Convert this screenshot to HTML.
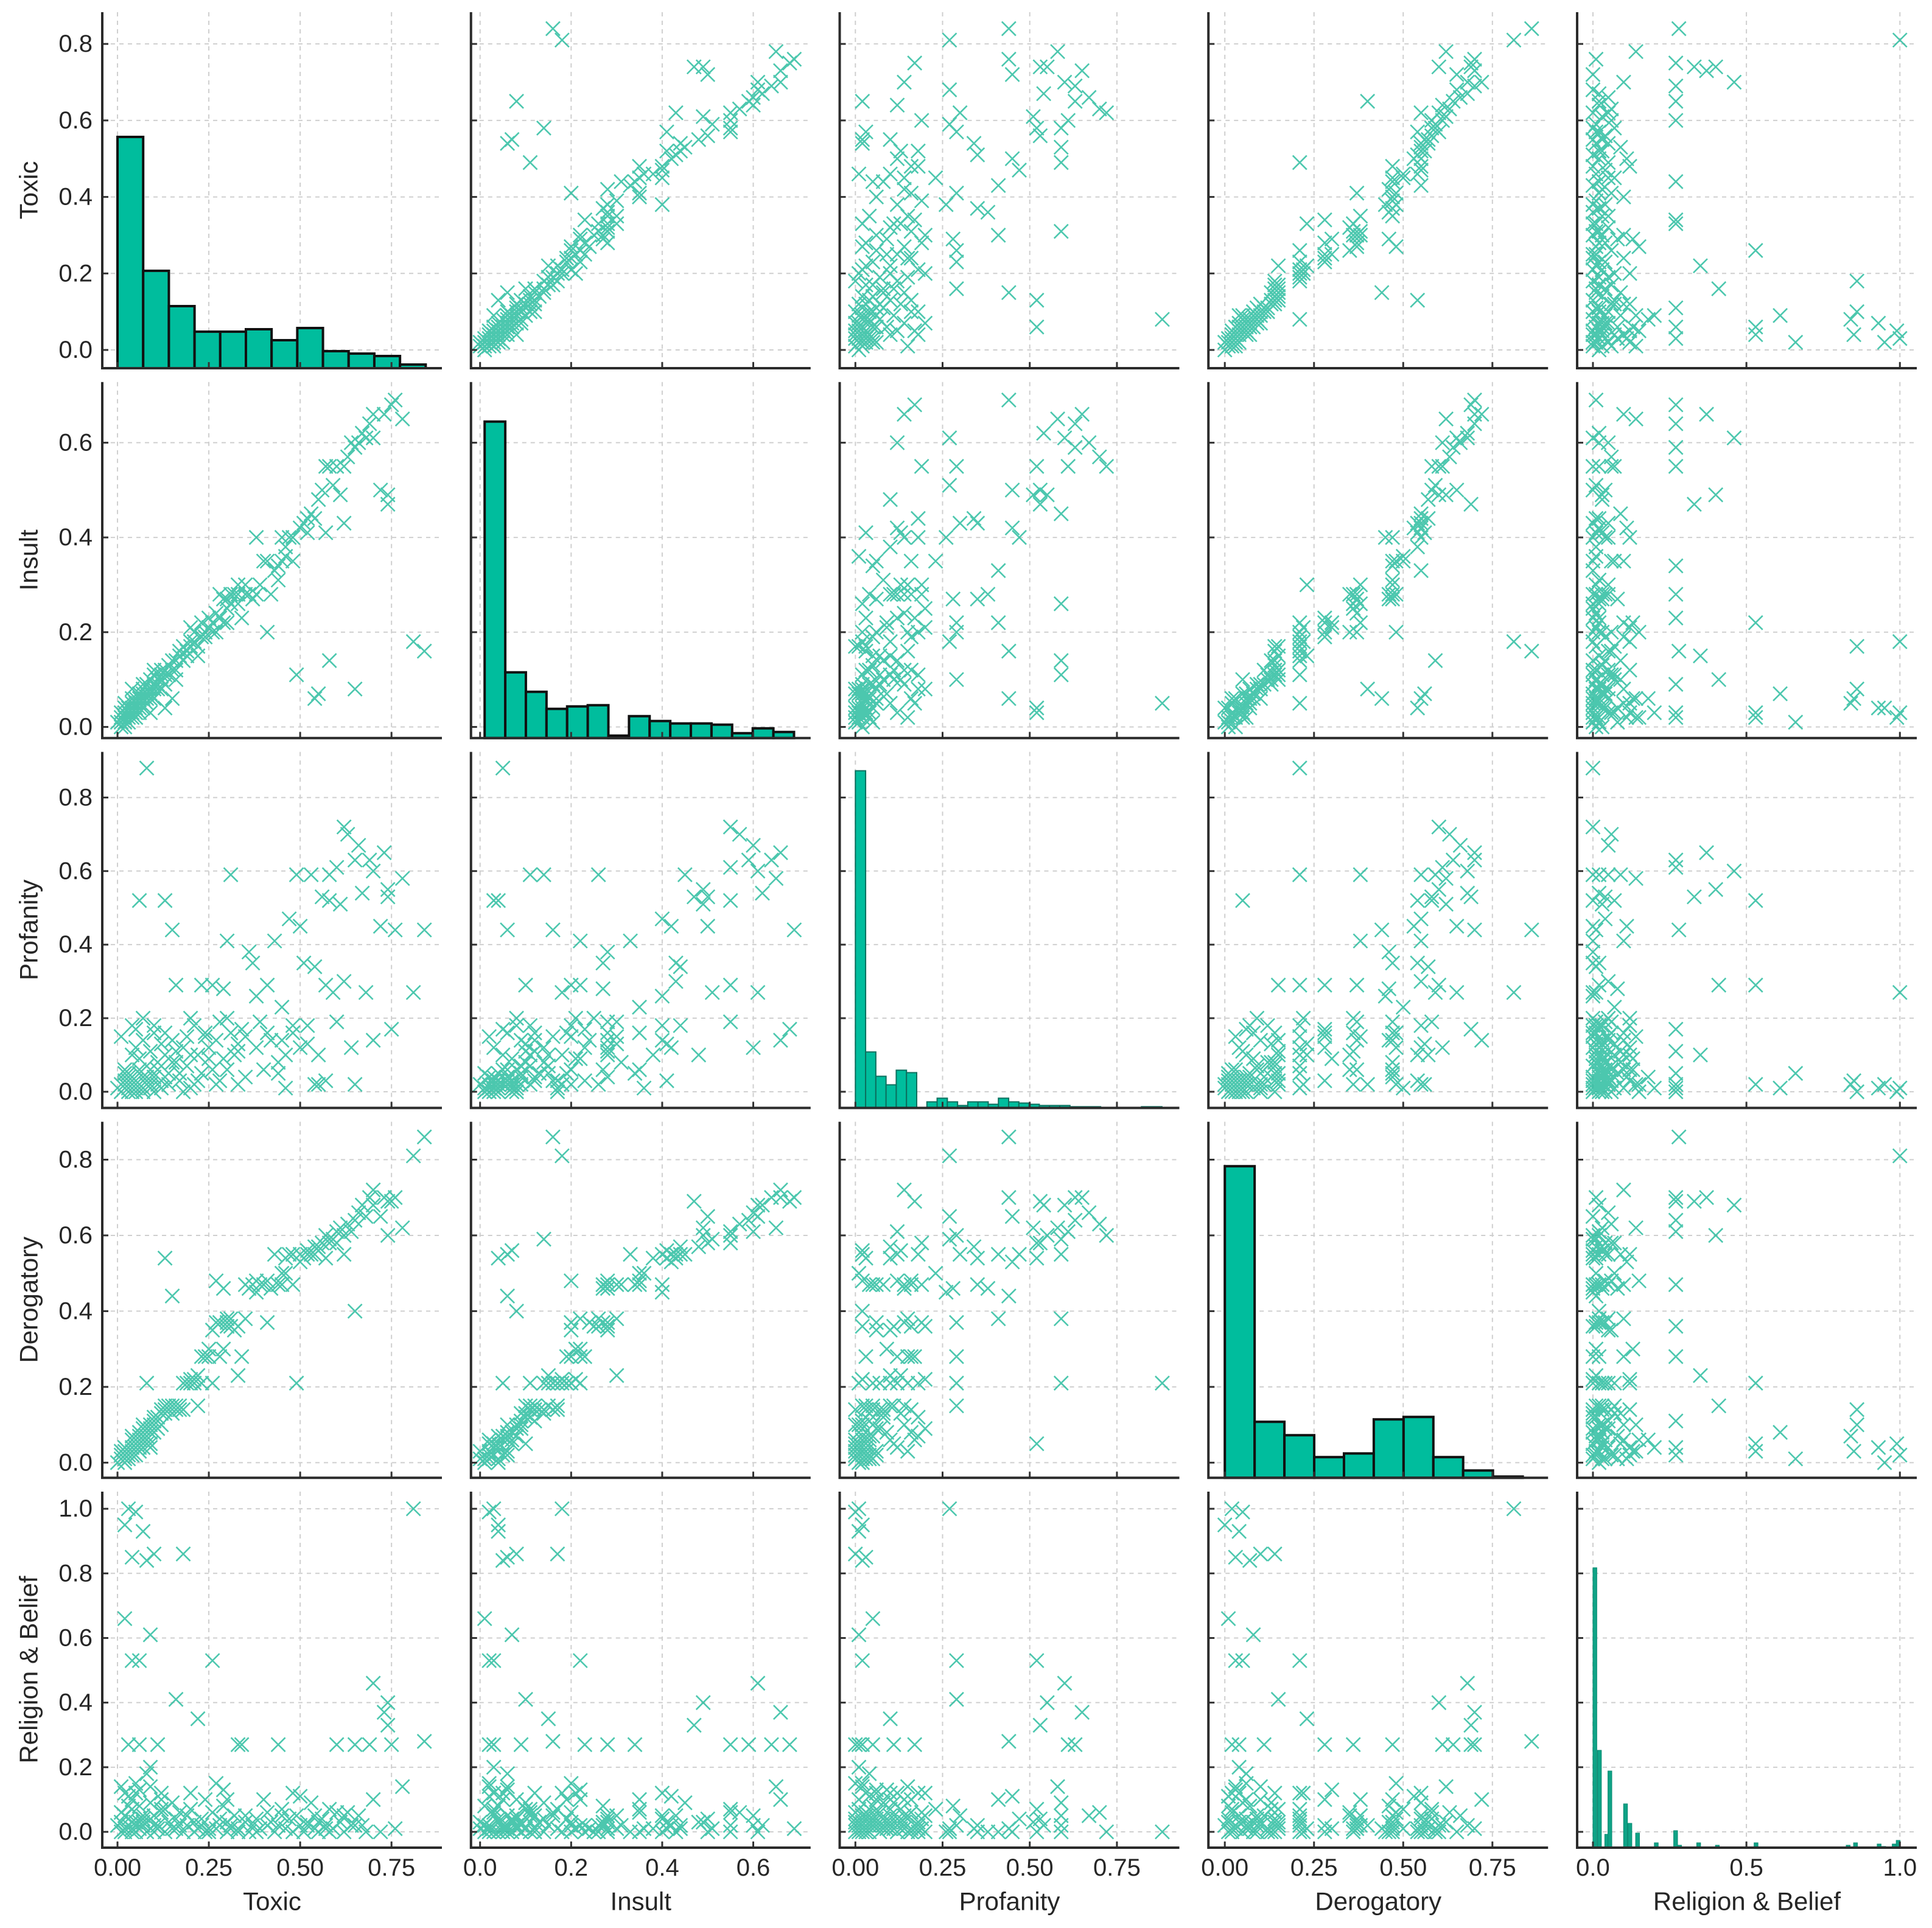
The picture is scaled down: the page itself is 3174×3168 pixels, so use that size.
<!DOCTYPE html>
<html><head><meta charset="utf-8"><style>html,body{margin:0;padding:0;background:#fff}svg{display:block}</style></head>
<body>
<svg id="chart" xmlns="http://www.w3.org/2000/svg" width="3174" height="3168" viewBox="0 0 3174 3168"></svg>
<script>
const varNames = ["Toxic","Insult","Profanity","Derogatory","Religion & Belief"];
const toxic = [.01,.02,.03,.04,.05,.02,.06,.07,.08,.03,.09,.10,.11,.12,.04,.05,.06,.01,.02,.03,.05,.07,.04,.08,.10,.02,.04,.09,.03,.06,.11,.08,.12,.13,.14,.15,.10,.07,.05,.09,.08,.06,.13,.15,.02,.03,.04,.01,.06,.12,.16,.17,.18,.19,.20,.21,.22,.23,.24,.25,.26,.27,.28,.29,.30,.31,.32,.33,.34,.35,.22,.26,.18,.20,.29,.30,.16,.33,.36,.27,.37,.38,.39,.40,.41,.42,.43,.44,.45,.46,.47,.48,.49,.50,.51,.52,.53,.54,.55,.54,.38,.41,.44,.46,.50,.56,.57,.58,.59,.60,.61,.62,.63,.64,.65,.66,.67,.68,.69,.70,.72,.73,.74,.75,.76,.78,.81,.84,.65,.70,.58,.55,.62,.74,.00,.01,.02,.03,.04,.05,.06,.07,.08,.09,.10,.11,.12,.13,.14,.15,.16,.17,.19,.21,.23,.25,.28,.30,.33,.35,.05,.02,.09,.10,.04,.07,.13,.20,.24,.31,.45,.52,.48,.60,.57];
const insult = [.01,.02,.02,.03,.04,.03,.05,.06,.07,.01,.08,.09,.10,.11,.05,.03,.07,.02,.04,.03,.02,.04,.06,.05,.08,.01,.02,.07,.02,.03,.09,.06,.12,.11,.13,.12,.11,.08,.05,.10,.05,.03,.04,.06,.02,.04,.03,.00,.06,.08,.14,.15,.14,.16,.18,.20,.17,.22,.19,.23,.20,.24,.28,.22,.25,.26,.28,.30,.23,.28,.15,.22,.17,.21,.27,.22,.10,.28,.28,.20,.27,.28,.30,.35,.35,.28,.33,.31,.35,.38,.40,.40,.11,.42,.43,.41,.45,.44,.07,.06,.40,.20,.34,.36,.42,.50,.55,.55,.51,.55,.49,.55,.57,.60,.59,.60,.62,.61,.64,.66,.50,.66,.49,.68,.69,.65,.18,.16,.08,.61,.14,.48,.43,.47,.01,.03,.00,.02,.04,.06,.04,.07,.09,.06,.12,.08,.10,.12,.11,.14,.12,.16,.15,.18,.19,.21,.23,.27,.26,.30,.02,.05,.03,.06,.08,.09,.09,.17,.20,.28,.40,.44,.35,.55,.41];
const profanity = [.00,.01,.00,.02,.01,.03,.02,.04,.03,.05,.06,.05,.08,.07,.10,.12,.09,.15,.02,.01,.00,.01,.03,.02,.00,.05,.02,.01,.00,.01,.02,.04,.03,.10,.05,.14,.18,.20,.17,.11,.88,.52,.52,.44,.01,.03,.04,.02,.06,.01,.08,.05,.12,.15,.10,.18,.03,.29,.16,.12,.06,.14,.19,.09,.20,.59,.10,.13,.17,.04,.10,.29,.00,.20,.28,.41,.29,.11,.38,.02,.35,.12,.19,.06,.16,.14,.41,.08,.23,.10,.47,.18,.59,.12,.35,.13,.59,.34,.02,.02,.26,.29,.05,.01,.45,.53,.29,.52,.27,.61,.51,.72,.70,.12,.63,.67,.54,.27,.63,.14,.45,.65,.55,.17,.44,.58,.27,.44,.02,.60,.59,.10,.30,.53,.01,.00,.02,.04,.00,.03,.05,.00,.07,.02,.04,.06,.13,.16,.02,.08,.11,.03,.07,.02,.05,.09,.03,.06,.02,.15,.00,.06,.01,.16,.18,.14,.04,.01,.15,.16,.14,.18,.16,.19,.03];
const derogatory = [.01,.02,.03,.02,.05,.04,.06,.07,.05,.01,.09,.10,.12,.14,.06,.04,.08,.03,.00,.02,.05,.04,.03,.07,.10,.01,.03,.08,.02,.04,.11,.06,.14,.15,.14,.15,.12,.09,.06,.05,.21,.05,.54,.44,.02,.01,.02,.01,.03,.10,.14,.15,.21,.21,.21,.21,.15,.28,.28,.28,.35,.37,.37,.30,.36,.38,.35,.23,.28,.47,.23,.21,.14,.22,.46,.38,.15,.36,.46,.48,.47,.48,.47,.47,.48,.46,.55,.47,.50,.54,.55,.55,.21,.55,.54,.56,.55,.57,.56,.55,.45,.37,.47,.50,.53,.58,.60,.58,.59,.61,.62,.60,.63,.61,.64,.66,.68,.65,.70,.72,.65,.70,.60,.69,.70,.62,.81,.86,.40,.68,.59,.57,.55,.69,.00,.02,.03,.01,.04,.02,.07,.06,.09,.10,.11,.09,.13,.14,.15,.13,.15,.14,.21,.22,.21,.30,.28,.37,.36,.38,.06,.02,.04,.08,.07,.10,.13,.21,.28,.36,.47,.55,.47,.58,.54];
const religion = [.00,.01,.02,.00,.03,.05,.01,.02,.00,.08,.04,.02,.01,.06,.10,.12,.03,.14,.95,1.0,.99,.93,.85,.84,.86,.66,.53,.61,.27,.27,.27,.18,.12,.07,.03,.01,.00,.05,.02,.09,.00,.53,.00,.01,.00,.04,.07,.03,.13,.10,.04,.02,.00,.05,.12,.03,.01,.02,.10,.00,.06,.01,.04,.13,.00,.02,.05,.01,.27,.03,.35,.53,.86,.12,.08,.10,.41,.27,.00,.15,.02,.04,.01,.10,.06,.03,.00,.02,.07,.01,.04,.12,.05,.02,.00,.03,.09,.01,.00,.05,.00,.02,.27,.01,.11,.04,.02,.07,.01,.27,.03,.00,.06,.02,.27,.05,.02,.00,.27,.10,.00,.37,.40,.27,.01,.14,1.0,.28,.02,.46,.00,.03,.05,.33,.02,.06,.01,.11,.03,.00,.08,.04,.00,.14,.05,.02,.07,.00,.03,.09,.01,.06,.02,.00,.04,.01,.02,.03,.00,.05,.15,.12,.20,.00,.01,.03,.00,.07,.00,.01,.05,.02,.00,.06,.01];

// histogram data (counts) for diagonal panels
const toxicHistStart = 0, toxicHistWidth = 0.0703;
const toxicHistCounts = [190,80,51,30,30,32,23,33,14,12,10,3];
const insultHistStart = 0.01, insultHistWidth = 0.0453;
const insultHistCounts = [260,54,38,24,26,27,2,18,14,12,12,11,4,8,5];
const profanityHistStart = 0, profanityHistWidth = 0.0293;
const profanityHistCounts = [277,46,26,19,31,29,0,5,8,5,2,5,5,3,8,5,4,3,2,2,2,1,1,1,0,0,0,0,1,1];
const derogatoryHistStart = 0, derogatoryHistWidth = 0.0835;
const derogatoryHistCounts = [256,46,35,17,20,48,50,17,6,1];
const religionHistWidth = 0.0127;
const religionHistBins = [0,0.0148,0.0386,0.0488,0.0998,0.114,0.139,0.200,0.263,0.276,0.338,0.399,0.525,0.825,0.849,0.926,0.941,0.975,0.988];
const religionHistCounts = [230,80,11,63,36,20,12,4,14,2,4,2,4,2,4,3,1,3,6];
const histCountMax = 292.5;

const xTicks = [[0,.25,.5,.75],[0,.2,.4,.6],[0,.25,.5,.75],[0,.25,.5,.75],[0,.5,1]];
const xTickLabels = [["0.00","0.25","0.50","0.75"],["0.0","0.2","0.4","0.6"],["0.00","0.25","0.50","0.75"],["0.00","0.25","0.50","0.75"],["0.0","0.5","1.0"]];
const yTicks = [[0,.2,.4,.6,.8],[0,.2,.4,.6],[0,.2,.4,.6,.8],[0,.2,.4,.6,.8],[0,.2,.4,.6,.8,1]];
const yTickLabels = [["0.0","0.2","0.4","0.6","0.8"],["0.0","0.2","0.4","0.6"],["0.0","0.2","0.4","0.6","0.8"],["0.0","0.2","0.4","0.6","0.8"],["0.0","0.2","0.4","0.6","0.8","1.0"]];

// layout
const xLim = [[-0.0417,0.888],[-0.02,0.726],[-0.045,0.929],[-0.046,0.906],[-0.0515,1.055]];
const yLim = [[-0.0477,0.883],[-0.0235,0.728],[-0.044,0.924],[-0.04,0.9],[-0.049,1.053]];
const PW = 558, PH = 585;
const colLeft = c => 168 + c*605.75;
const rowTop = r => 20 + r*607.75;

const svg = document.getElementById('chart');
const NS = 'http://www.w3.org/2000/svg';
function mk(tag, attrs, parent){ const e=document.createElementNS(NS,tag); for(const k in attrs) e.setAttribute(k,attrs[k]); (parent||svg).appendChild(e); return e; }
const series = [toxic, insult, profanity, derogatory, religion];
const histStarts = [toxicHistStart, insultHistStart, profanityHistStart, derogatoryHistStart];
const histWidths = [toxicHistWidth, insultHistWidth, profanityHistWidth, derogatoryHistWidth];
const histCounts = [toxicHistCounts, insultHistCounts, profanityHistCounts, derogatoryHistCounts];
const FONT = '"Liberation Sans", "DejaVu Sans", sans-serif';
const TEAL = '#1fb99a';

for (let r=0;r<5;r++){
  for (let c=0;c<5;c++){
    const L = colLeft(c), T = rowTop(r), B = T+PH, R = L+PW;
    const sx = v => L + (v - xLim[c][0])/(xLim[c][1]-xLim[c][0])*PW;
    const sy = v => B - (v - yLim[r][0])/(yLim[r][1]-yLim[r][0])*PH;
    const g = mk('g', {});
    
    
    xTicks[c].forEach(t => { const ln = mk('line',{x1:sx(t),x2:sx(t),y1:T,y2:B,stroke:'#cfcfcf','stroke-width':2,'stroke-dasharray':'7,7'},g);
        });
    yTicks[r].forEach(t => { const ln = mk('line',{x1:L,x2:R,y1:sy(t),y2:sy(t),stroke:'#cfcfcf','stroke-width':2,'stroke-dasharray':'7,7'},g);
        });
    if (r===c){
      const hy = v => B - v/histCountMax*PH;
      if (r<4){
        const thin = (r===2);
        histCounts[r].forEach((cnt,i) => {
          const x0 = sx(histStarts[r]+i*histWidths[r]), x1 = sx(histStarts[r]+(i+1)*histWidths[r]);
          const rect = mk('rect',{x:x0,y:hy(cnt),width:x1-x0,height:B-hy(cnt),fill:'#00bd9d',stroke:thin?'#0b6f5e':'#111','stroke-width':thin?2:4},g);
           
        });
      } else {
        religionHistBins.forEach((s,i) => {
          const x0 = sx(s), x1 = sx(s+religionHistWidth), cnt = religionHistCounts[i];
          const rect = mk('rect',{x:x0,y:hy(cnt),width:x1-x0,height:B-hy(cnt),fill:'#0fa386',stroke:'#0b8a72','stroke-width':1},g);
           
        });
      }
    } else {
      const xs = series[c], ys = series[r];
      let d = '';
      for (let i=0;i<xs.length;i++){
        const px = sx(xs[i]), py = sy(ys[i]), h = 11.5;
        d += `M${px-h},${py-h}L${px+h},${py+h}M${px-h},${py+h}L${px+h},${py-h}`;
      }
      const p = mk('path',{d:d,stroke:TEAL,'stroke-width':2.6,fill:'none','stroke-opacity':0.8},g);
       
    }
    xTicks[c].forEach(t => { const tk = mk('line',{x1:sx(t),x2:sx(t),y1:B,y2:B-10,stroke:'#333','stroke-width':3},g);
        });
    yTicks[r].forEach(t => { const tk = mk('line',{x1:L,x2:L+10,y1:sy(t),y2:sy(t),stroke:'#333','stroke-width':3},g);
        });
    const sp = mk('path',{d:`M${L},${T}L${L},${B}L${R},${B}`,stroke:'#2b2b2b','stroke-width':4,fill:'none'},g);
     
    if (c===0){
      yTicks[r].forEach((t,i) => { const tx = mk('text',{x:L-16,y:sy(t),'text-anchor':'end','dominant-baseline':'central','font-size':40,'font-family':FONT,fill:'#262626'},g);
        tx.textContent = yTickLabels[r][i];
          });
      const yl = mk('text',{x:0,y:0,transform:`translate(47,${T+PH/2}) rotate(-90)`,'text-anchor':'middle','dominant-baseline':'central','font-size':42,'font-family':FONT,fill:'#262626'},g);
      yl.textContent = varNames[r];
       
    }
    if (r===4){
      xTicks[c].forEach((t,i) => { const tx = mk('text',{x:sx(t),y:B+33,'text-anchor':'middle','dominant-baseline':'central','font-size':40,'font-family':FONT,fill:'#262626'},g);
        tx.textContent = xTickLabels[c][i];
          });
      const xl = mk('text',{x:L+PW/2,y:3124,'text-anchor':'middle','dominant-baseline':'central','font-size':42,'font-family':FONT,fill:'#262626'},g);
      xl.textContent = varNames[c];
       
    }
  }
}
</script>
</body></html>
